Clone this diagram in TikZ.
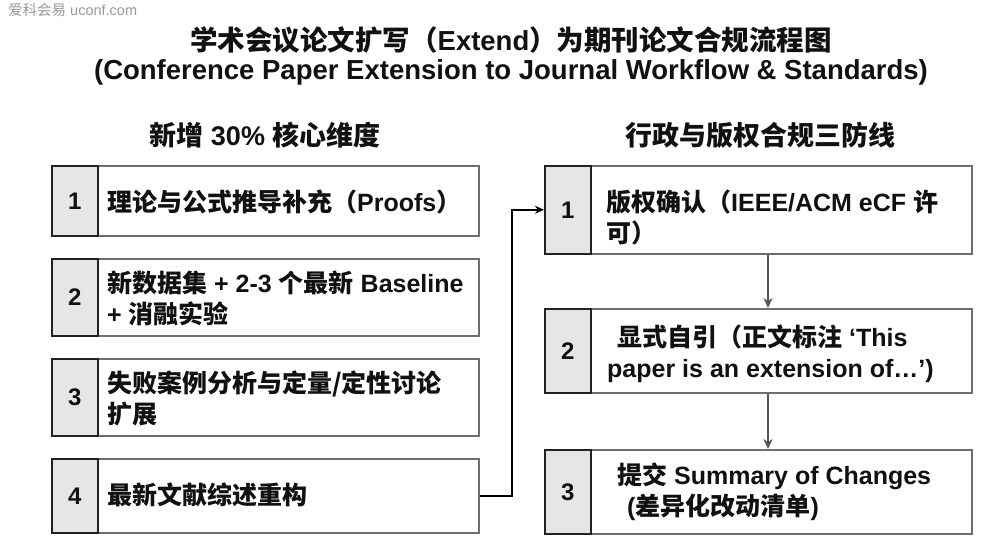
\documentclass[tikz,border=0pt]{standalone}
\usepackage{fontspec}
\setmainfont{Liberation Sans}
\newfontfamily\cjk{Noto Sans CJK SC}
\usetikzlibrary{arrows.meta}
\newcommand\z[1]{{\cjk #1}}
\definecolor{txt}{HTML}{111111}
\definecolor{boxline}{HTML}{6E6E6E}
\definecolor{numfill}{HTML}{E6E6E6}
\definecolor{numline}{HTML}{222222}
\definecolor{arr}{HTML}{555555}
\definecolor{wm}{HTML}{9A9A9A}
\tikzset{
  mainbox/.style={draw=boxline, line width=1.5pt, fill=white, inner sep=0pt, anchor=north west, minimum width=427pt},
  numcell/.style={draw=numline, line width=1.5pt, fill=numfill, inner sep=0pt, anchor=north west, minimum width=46pt, text=txt, font=\bfseries\fontsize{24}{28}\selectfont},
  boxtext/.style={anchor=west, align=left, inner sep=0pt, text=txt, font=\bfseries\fontsize{25}{31}\selectfont},
  titletext/.style={inner sep=0pt, text=txt, font=\bfseries\fontsize{27.5}{32}\selectfont},
  headtext/.style={inner sep=0pt, text=txt, font=\bfseries\fontsize{27}{30}\selectfont},
  conn/.style={line width=1.5pt, draw=black, -{Stealth[length=9pt,width=8pt]}},
  vconn/.style={line width=1.5pt, draw=arr, -{Stealth[length=10pt,width=9pt]}}
}
\begin{document}
\begin{tikzpicture}[x=1pt,y=-1pt]
\useasboundingbox[fill=white] (0,0) rectangle (1008,558);
% watermark
\node[anchor=west, inner sep=0pt, text=wm, font=\fontsize{14.5}{16}\selectfont] (wm) at (8,10) {\z{爱科会易} uconf.com};
% titles
\node[titletext] (t1) at (511,40) {\z{学术会议论文扩写（}Extend\z{）为期刊论文合规流程图}};
\node[titletext] (t2) at (511,72) {(Conference Paper Extension to Journal Workflow \& Standards)};
\node[headtext] (h1) at (265,135) {\z{新增} 30\% \z{核心维度}};
\node[headtext] (h2) at (760,135) {\z{行政与版权合规三防线}};
% left boxes
\node[mainbox, minimum height=70pt] (L1) at (51,165) {};
\node[numcell, minimum height=70pt] (L1n) at (51,165) {1};
\node[boxtext] (L1t) at (107,202) {\z{理论与公式推导补充（}Proofs\z{）}};

\node[mainbox, minimum height=77pt] (L2) at (51,258) {};
\node[numcell, minimum height=77pt] (L2n) at (51,258) {2};
\node[boxtext] (L2t) at (107,298) {\z{新数据集} + 2-3 \z{个最新} Baseline\\+ \z{消融实验}};

\node[mainbox, minimum height=77pt] (L3) at (51,358) {};
\node[numcell, minimum height=77pt] (L3n) at (51,358) {3};
\node[boxtext] (L3t) at (107,398) {\z{失败案例分析与定量/定性讨论}\\\z{扩展}};

\node[mainbox, minimum height=74pt] (L4) at (51,458) {};
\node[numcell, minimum height=74pt] (L4n) at (51,458) {4};
\node[boxtext] (L4t) at (107,495) {\z{最新文献综述重构}};

% right boxes
\node[mainbox, minimum height=88pt] (R1) at (544,165) {};
\node[numcell, minimum height=88pt] (R1n) at (544,165) {1};
\node[boxtext] (R1t) at (606,217) {\z{版权确认（}IEEE/ACM eCF \z{许}\\\z{可）}};

\node[mainbox, minimum height=84pt] (R2) at (544,308) {};
\node[numcell, minimum height=84pt] (R2n) at (544,308) {2};
\node[boxtext] (R2t) at (607,354) {\hspace*{10pt}\z{显式自引（正文标注} ‘This\\paper is an extension of…’)};

\node[mainbox, minimum height=84pt] (R3) at (544,449) {};
\node[numcell, minimum height=84pt] (R3n) at (544,449) {3};
\node[boxtext] (R3t) at (617,492) {\z{提交} Summary of Changes\\\hspace*{10pt}(\z{差异化改动清单})};

% connectors
\coordinate (elbow) at (512,0);
\coordinate (ax) at (768,0);
\draw[conn] (L4.east) -- (L4.east -| elbow) |- (R1n.west);
\draw[vconn] (R1.south -| ax) -- (R2.north -| ax);
\draw[vconn] (R2.south -| ax) -- (R3.north -| ax);
\end{tikzpicture}
\end{document}
